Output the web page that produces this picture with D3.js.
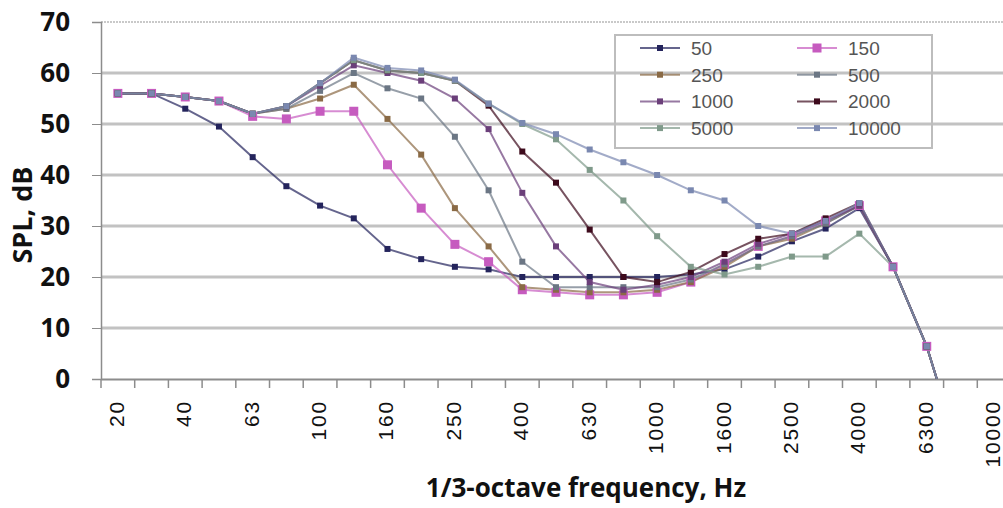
<!DOCTYPE html>
<html>
<head>
<meta charset="utf-8">
<script src="https://cdn.jsdelivr.net/npm/d3@7"></script>
<style>
	body { margin: 0; background: #fff; overflow: hidden; }
	svg  { display: block; }
</style>
</head>
<body>
<script>
// ************************************************************************************
// DATA
// ************************************************************************************
var freqs = ["20","31.5","40","50","63","80","100","125","160","200","250","315","400","500",
             "630","800","1000","1250","1600","2000","2500","3150","4000","5000","6300","8000","10000"]

var freqLabels = ["20","40","63","100","160","250","400","630","1000","1600","2500","4000","6300","10000"]

var yTicks = [0, 10, 20, 30, 40, 50, 60, 70]

var seriesNames = ["50", "150", "250", "500", "1000", "2000", "5000", "10000"]

var s50    = [56,56,53,49.5,43.5,37.8,34,31.5,25.5,23.5,22,21.5,20,20,20,20,20,20.5,21.5,24,27,29.5,33.5,22,6.4,-15,null]
var s150   = [56,56,55.3,54.5,51.5,51,52.5,52.5,42,33.5,26.4,23,17.5,17,16.5,16.5,17,19,22.5,26,28,31,34,22,6.4,-15,null]
var s250   = [56,56,55.3,54.5,52,53,55,57.7,51,44,33.5,26,18,17.5,17,17,17.5,19,22,26,27.5,30.5,34,22,6.4,-15,null]
var s500   = [56,56,55.3,54.5,52,53,56.5,60,57,55,47.5,37,23,18,18,18,18,19.5,22.5,26,28,30.5,34,22,6.4,-15,null]
var s1000  = [56,56,55.3,54.5,52,53.5,57.5,61.5,60,58.5,55,49,36.5,26,19,17.5,18.5,20,23,26.5,28.5,31,34,22,6.4,-15,null]
var s2000  = [56,56,55.3,54.5,52,53.5,58,62.5,60.5,60,58.5,53.6,44.6,38.5,29.3,20,19,21,24.5,27.5,28.5,31.5,34.5,22,6.4,-15,null]
var s5000  = [56,56,55.3,54.5,52,53.5,58,62.5,60.5,60,58.5,54,50,47,41,35,28,22,20.5,22,24,24,28.5,22,6.4,-15,null]
var s10000 = [56,56,55.3,54.5,52,53.5,58,63,61,60.5,58.7,54,50.2,48,45,42.5,40,37,35,30,28.5,31,34.5,22,6.4,-15,null]

var seriesValues = [s50, s150, s250, s500, s1000, s2000, s5000, s10000]
var seriesColors = ["#24245c", "#c65bbf", "#8a6a45", "#6b7684", "#6b3f7a", "#3d0a1c", "#7f9a8a", "#7a88b0"]

// ************************************************************************************
// GLOBAL VARIABLES
// ************************************************************************************
var W = 1003, H = 508
  , pLeft = 101, pRight = 1011, pTop = 22, pBottom = 379

var svg = d3.select("body").append("svg")
	.attr("width", W).attr("height", H)

var x = d3.scaleBand().domain(freqs).range([pLeft, pRight]).padding(0)
  , y = d3.scaleLinear().domain([0, 70]).range([pBottom, pTop])
  , cx = function (f) { return x(f) + x.bandwidth() / 2 }

svg.append("clipPath").attr("id", "plot")
	.append("rect").attr("x", pLeft).attr("y", pTop - 5).attr("width", pRight - pLeft).attr("height", pBottom - pTop + 5)

// ************************************************************************************
// GRID & AXES
// ************************************************************************************
svg.append("g").selectAll("line").data(yTicks.filter(function (t) { return t > 0 && t < 70 }))
	.join("line")
	.attr("x1", pLeft).attr("x2", W)
	.attr("y1", y).attr("y2", y)
	.attr("stroke", "#c2c2c2").attr("stroke-width", 3)

svg.append("line").attr("x1", pLeft).attr("x2", W).attr("y1", y(70)).attr("y2", y(70))
	.attr("stroke", "#b8b8b8").attr("stroke-width", 1.5).attr("stroke-dasharray", "2,1")

var yAxis = svg.append("g").attr("transform", "translate(" + pLeft + ",0)")
	.call(d3.axisLeft(y).tickValues(yTicks).tickSize(9).tickPadding(22))
yAxis.select(".domain").attr("stroke", "#8c8c8c").attr("stroke-width", 1.5)
yAxis.selectAll(".tick line").attr("stroke", "#8c8c8c")
yAxis.selectAll(".tick text")
	.attr("font-family", "'Open Sans', sans-serif").attr("font-weight", "bold")
	.attr("font-size", 26).attr("fill", "#111")

var xAxis = svg.append("g").attr("transform", "translate(0," + pBottom + ")")
	.call(d3.axisBottom(x).tickSize(0).tickFormat(""))
xAxis.select(".domain").attr("stroke", "#8c8c8c").attr("stroke-width", 2)

svg.append("g").selectAll("line").data(freqs.concat(["end"]))
	.join("line")
	.attr("x1", function (f, i) { return pLeft + i * x.bandwidth() })
	.attr("x2", function (f, i) { return pLeft + i * x.bandwidth() })
	.attr("y1", pBottom).attr("y2", pBottom + 9)
	.attr("stroke", "#8c8c8c").attr("stroke-width", 1.5)

// the last label sits right on the cropped edge, nudge everything a hair left
svg.append("g").selectAll("text").data(freqLabels)
	.join("text")
	.attr("transform", function (f) { return "translate(" + (cx(f) + 6) + "," + (pBottom + 21) + ") rotate(-90)" })
	.attr("text-anchor", "end")
	.attr("font-family", "'Liberation Sans', sans-serif").attr("font-size", 21)
	.attr("letter-spacing", 1.8).attr("fill", "#111")
	.text(function (f) { return f })

svg.append("text")
	.attr("x", 586).attr("y", 497).attr("text-anchor", "middle")
	.attr("font-family", "'Open Sans', sans-serif").attr("font-weight", "bold").attr("font-size", 26)
	.attr("fill", "#111")
	.text("1/3-octave frequency, Hz")

svg.append("text")
	.attr("transform", "translate(32,215) rotate(-90)").attr("text-anchor", "middle")
	.attr("font-family", "'Open Sans', sans-serif").attr("font-weight", "bold").attr("font-size", 27)
	.attr("fill", "#111")
	.text("SPL, dB")

// ************************************************************************************
// SERIES
// ************************************************************************************
var line = d3.line()
	.defined(function (d) { return d != null })
	.x(function (d, i) { return cx(freqs[i]) })
	.y(function (d) { return y(d) })

var marker = function (g, i, px, py) {
	var s = i == 1 ? 9 : 6
	g.append("rect")
		.attr("x", px - s / 2).attr("y", py - s / 2).attr("width", s).attr("height", s)
		.attr("fill", seriesColors[i])
}

var plot = svg.append("g").attr("clip-path", "url(#plot)")

seriesValues.forEach(function (vals, i) {
	plot.append("path").datum(vals)
		.attr("d", line)
		.attr("fill", "none").attr("stroke", seriesColors[i]).attr("stroke-width", 2).attr("stroke-opacity", 0.7)
})

seriesValues.forEach(function (vals, i) {
	var g = plot.append("g")
	vals.forEach(function (v, j) {
		if (v != null && v >= 0) marker(g, i, cx(freqs[j]), y(v))
	})
})

// ************************************************************************************
// LEGEND
// ************************************************************************************
svg.append("rect")
	.attr("x", 615).attr("y", 35).attr("width", 317).attr("height", 113)
	.attr("fill", "none").attr("stroke", "#bdbdbd").attr("stroke-width", 2)

seriesNames.forEach(function (name, i) {
	var col = i % 2, row = Math.floor(i / 2)
	  , mx = col ? 817 : 660
	  , my = 48 + row * 26.7
	  , g = svg.append("g")
	g.append("line").attr("x1", mx - 20).attr("x2", mx + 20).attr("y1", my).attr("y2", my)
		.attr("stroke", seriesColors[i]).attr("stroke-width", 2).attr("stroke-opacity", 0.7)
	marker(g, i, mx, my)
	g.append("text").attr("x", mx + 31).attr("y", my + 7)
		.attr("font-family", "'Liberation Sans', sans-serif").attr("font-size", 19).attr("fill", "#555")
		.text(name)
})
</script>
</body>
</html>
